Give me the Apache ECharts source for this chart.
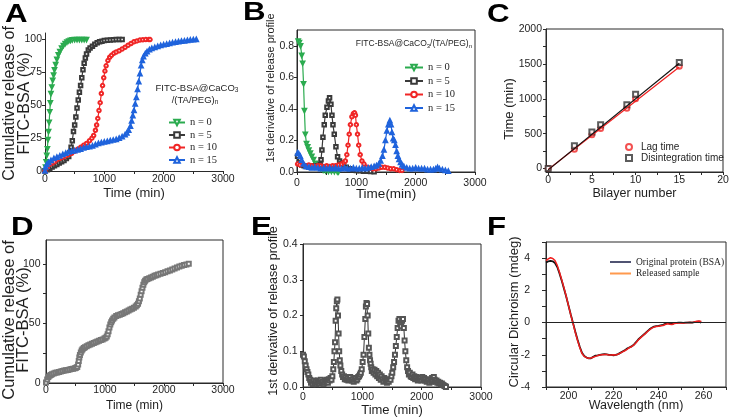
<!DOCTYPE html>
<html><head><meta charset="utf-8">
<script src="https://cdn.jsdelivr.net/npm/echarts@6/dist/echarts.min.js"></script>
<style>html,body{margin:0;padding:0;background:#fff}#c{width:729px;height:418px}</style>
</head><body><div id="c"></div>
<script>
// ---------------- DATA ----------------
// Panel A: cumulative release (%) vs time (min)
const relN0 = [[0,0],[10,3],[20,7],[30,12],[40,17],[50,24],[60,30],[70,37],[80,45],[90,52],[100,59],[115,64],[130,69],[145,73],[160,77],[180,81],[200,85],[225,88.5],[250,91],[280,93.5],[310,95.5],[340,97],[370,98.2],[400,99],[430,99.5],[460,99.8],[500,100],[540,100],[580,100],[620,100],[660,100],[700,100]];
const relN5 = [[0,0],[40,1],[80,2],[120,3],[160,4],[200,5],[240,6],[280,7],[320,8],[360,9.5],[400,11],[420,14],[440,18],[460,23],[480,30],[500,35],[520,41],[540,48],[560,54],[580,60],[600,65],[620,71],[640,77],[660,82],[680,86],[700,89],[730,92],[760,93.5],[800,95],[840,96.5],[880,97.5],[920,98.3],[960,98.8],[1000,99.2],[1050,99.5],[1100,99.7],[1150,99.8],[1200,100],[1250,100],[1300,100]];
const relN10 = [[0,0],[40,3],[80,5],[120,6],[160,7],[200,8.5],[250,9.5],[300,10.5],[350,11.5],[400,12.5],[450,13.5],[500,15],[550,16.5],[600,18],[650,19.5],[700,21],[750,23],[790,25],[820,27],[850,31],[870,35],[890,40],[910,46],[930,52],[950,59],[970,65],[990,71],[1010,76],[1030,80],[1060,84],[1090,86.5],[1120,88],[1160,89.5],[1200,90.5],[1250,91.5],[1300,92.8],[1350,94.2],[1400,95.7],[1450,97],[1500,98.3],[1550,99],[1600,99.6],[1650,99.9],[1700,100],[1750,100],[1770,100]];
const relN15 = [[0,0],[10,3],[30,5],[60,6.5],[100,8],[150,9.5],[200,10.5],[250,11.5],[300,12.5],[350,13.5],[400,14.5],[450,15],[500,15.5],[550,16],[600,16.5],[650,17.5],[700,18],[750,18.5],[800,19],[850,20],[900,21],[950,21.5],[1000,22],[1050,22.5],[1100,23],[1150,23.5],[1200,24],[1250,25],[1300,26],[1350,27.5],[1380,29],[1410,31],[1440,34],[1460,38],[1480,42],[1500,46],[1520,51],[1540,56],[1560,62],[1580,68],[1600,74],[1620,80],[1640,84],[1660,87],[1690,89.3],[1720,90.8],[1760,92.3],[1800,93.3],[1850,94],[1900,94.8],[1950,95.5],[2000,96],[2050,96.5],[2100,97],[2150,97.5],[2200,98],[2250,98.3],[2300,98.7],[2350,99],[2400,99.3],[2450,99.6],[2500,99.9],[2550,100]];

// Panel B: 1st derivative of release profile
const derN0 = [[20,0.83],[40,0.82],[60,0.80],[80,0.74],[95,0.69],[110,0.56],[125,0.39],[140,0.24],[160,0.18],[180,0.16],[200,0.14],[225,0.12],[250,0.10],[280,0.08],[310,0.055],[340,0.04],[370,0.03],[400,0.02],[440,0.012],[480,0.008],[530,0.005],[580,0.004],[630,0.003],[680,0.002],[700,0.002]];
const derN5 = [[10,0.10],[40,0.06],[80,0.045],[120,0.04],[160,0.035],[200,0.035],[250,0.04],[300,0.035],[350,0.04],[390,0.047],[405,0.077],[420,0.14],[437,0.22],[459,0.30],[476,0.36],[505,0.41],[530,0.45],[549,0.47],[572,0.43],[589,0.36],[606,0.30],[628,0.24],[656,0.16],[684,0.096],[718,0.07],[757,0.055],[785,0.044],[830,0.03],[880,0.02],[940,0.015],[1000,0.01],[1060,0.008],[1120,0.005],[1180,0.004],[1240,0.003],[1300,0.002]];
const derN10 = [[10,0.05],[50,0.045],[100,0.05],[150,0.04],[200,0.045],[250,0.04],[300,0.035],[350,0.04],[400,0.04],[450,0.035],[500,0.04],[550,0.035],[600,0.04],[650,0.04],[700,0.045],[750,0.05],[790,0.06],[815,0.07],[840,0.11],[860,0.17],[880,0.24],[900,0.30],[925,0.35],[950,0.37],[970,0.375],[985,0.36],[1000,0.30],[1020,0.24],[1040,0.17],[1065,0.11],[1095,0.07],[1130,0.05],[1180,0.03],[1230,0.025],[1280,0.02],[1330,0.02],[1380,0.025],[1430,0.03],[1480,0.03],[1530,0.025],[1580,0.02],[1630,0.02],[1680,0.015],[1730,0.01],[1770,0.01]];
const derN15 = [[10,0.12],[30,0.115],[55,0.10],[80,0.075],[110,0.05],[150,0.035],[200,0.03],[250,0.025],[300,0.03],[350,0.025],[400,0.02],[450,0.025],[500,0.02],[550,0.025],[600,0.02],[650,0.025],[700,0.02],[750,0.02],[800,0.025],[850,0.02],[900,0.02],[950,0.025],[1000,0.02],[1050,0.02],[1100,0.025],[1150,0.02],[1200,0.025],[1250,0.03],[1300,0.035],[1340,0.04],[1380,0.05],[1410,0.07],[1440,0.1],[1465,0.14],[1490,0.2],[1515,0.26],[1540,0.3],[1565,0.325],[1585,0.3],[1600,0.25],[1620,0.21],[1640,0.2],[1660,0.17],[1680,0.13],[1700,0.1],[1720,0.08],[1745,0.06],[1770,0.045],[1800,0.035],[1850,0.025],[1900,0.02],[1950,0.02],[2000,0.025],[2050,0.02],[2100,0.02],[2150,0.02],[2200,0.015],[2250,0.015],[2300,0.015],[2340,0.02],[2370,0.028],[2400,0.02],[2450,0.015],[2500,0.01],[2550,0.005]];
const seriesNames = ['n = 0', 'n = 5', 'n = 10', 'n = 15'];

// Panel C: lag / disintegration time vs bilayer number
const bilayer = [0, 3, 5, 6, 9, 10, 15];
const lagTime = [0, 275, 485, 575, 865, 1000, 1465];
const disTime = [0, 328, 525, 628, 915, 1065, 1520];
const fitN = [0, 15];
const lagFit = [-15, 1455];
const disFit = [-20, 1510];

// Panel D: cumulative release, multilayer sample
const relMulti = [[0,0.5],[20,3],[40,5],[60,6],[80,6.8],[100,7.4],[130,8],[160,8.5],[190,8.9],[220,9.3],[250,9.7],[280,10],[310,10.4],[340,10.7],[370,11],[400,11.3],[430,11.7],[460,12],[490,12.4],[510,12.8],[530,13.5],[545,15.5],[555,18.5],[565,21.5],[575,23.5],[590,25.5],[605,27.2],[620,28.3],[640,29.3],[660,30],[690,30.8],[720,31.6],[750,32.3],[780,33],[810,33.6],[840,34.2],[870,34.8],[900,35.4],[930,36],[960,36.6],[990,37.3],[1010,38],[1030,39],[1045,41],[1060,43.5],[1075,46.5],[1090,49],[1105,51],[1120,52.5],[1140,54],[1160,55],[1190,56.2],[1220,56.8],[1250,57.2],[1280,57.9],[1310,58.6],[1340,59.3],[1370,60],[1400,60.8],[1430,61.6],[1460,62.4],[1490,63.2],[1520,64.2],[1540,65.2],[1560,66.5],[1575,68.5],[1590,71],[1605,74],[1620,77],[1635,80],[1650,82.5],[1665,84.5],[1680,85.8],[1700,86.8],[1720,87.3],[1750,88],[1780,88.6],[1810,89.2],[1840,89.9],[1870,90.5],[1900,91],[1940,91.7],[1980,92.3],[2020,93],[2060,93.7],[2100,94.5],[2140,95.3],[2180,96.1],[2220,96.9],[2260,97.7],[2300,98.4],[2340,99],[2380,99.5],[2420,100]];

// Panel E: 1st derivative, multilayer sample
const derMulti = [[0,0.09],[15,0.085],[30,0.072],[45,0.06],[60,0.05],[75,0.042],[90,0.035],[105,0.025],[120,0.02],[135,0.012],[150,0.015],[165,0.008],[180,0.018],[195,0.01],[210,0.015],[225,0.008],[240,0.012],[255,0.018],[270,0.01],[285,0.015],[300,0.02],[315,0.012],[330,0.015],[345,0.008],[360,0.012],[375,0.018],[390,0.015],[405,0.02],[420,0.012],[435,0.022],[450,0.018],[465,0.025],[480,0.02],[495,0.03],[510,0.05],[520,0.07],[530,0.1],[540,0.125],[550,0.185],[560,0.22],[570,0.24],[580,0.245],[590,0.2],[600,0.15],[610,0.1],[620,0.075],[630,0.06],[645,0.045],[660,0.035],[675,0.028],[690,0.03],[705,0.022],[720,0.028],[735,0.02],[750,0.025],[765,0.018],[780,0.022],[795,0.028],[810,0.02],[825,0.018],[840,0.022],[855,0.015],[870,0.02],[885,0.025],[900,0.018],[915,0.022],[930,0.028],[945,0.03],[960,0.035],[975,0.04],[990,0.05],[1005,0.07],[1020,0.09],[1035,0.14],[1050,0.19],[1060,0.225],[1070,0.235],[1080,0.232],[1090,0.2],[1100,0.15],[1110,0.11],[1120,0.09],[1130,0.075],[1140,0.065],[1150,0.055],[1160,0.045],[1175,0.05],[1190,0.04],[1205,0.048],[1220,0.035],[1235,0.045],[1250,0.03],[1265,0.04],[1280,0.025],[1295,0.035],[1310,0.02],[1325,0.03],[1340,0.022],[1355,0.015],[1370,0.025],[1385,0.018],[1400,0.02],[1415,0.012],[1430,0.018],[1445,0.015],[1460,0.022],[1475,0.02],[1490,0.03],[1505,0.04],[1520,0.055],[1535,0.07],[1550,0.09],[1565,0.115],[1580,0.14],[1595,0.165],[1610,0.185],[1625,0.19],[1640,0.175],[1655,0.17],[1670,0.185],[1685,0.19],[1700,0.165],[1712,0.13],[1725,0.1],[1740,0.075],[1755,0.055],[1770,0.045],[1785,0.035],[1800,0.04],[1815,0.03],[1830,0.028],[1845,0.035],[1860,0.025],[1875,0.03],[1890,0.022],[1905,0.028],[1920,0.025],[1935,0.018],[1950,0.022],[1965,0.02],[1980,0.025],[1995,0.018],[2010,0.028],[2025,0.02],[2040,0.025],[2055,0.018],[2070,0.022],[2085,0.015],[2100,0.02],[2115,0.018],[2130,0.012],[2145,0.02],[2160,0.015],[2175,0.025],[2190,0.018],[2205,0.028],[2220,0.02],[2235,0.015],[2250,0.018],[2265,0.012],[2280,0.015],[2295,0.01],[2310,0.012],[2325,0.008],[2340,0.01],[2355,0.006],[2370,0.005],[2385,0.003],[2400,0.002],[2410,0.0]];

// Panel F: circular dichroism spectra
const wavelength = [190,191,192,193,194,195,196,197,198,199,200,201,202,203,204,205,206,207,208,209,210,211,212,213,214,215,216,217,218,219,220,221,222,223,224,225,226,227,228,229,230,231,232,233,234,235,236,237,238,239,240,241,242,243,244,245,246,247,248,249,250,251,252,253,254,255,256,257,258,259];
const cdOriginal = [3.72,3.80,3.83,3.80,3.70,3.45,3.05,2.6,2.1,1.6,1.05,0.5,-0.02,-0.55,-1.05,-1.5,-1.88,-2.08,-2.17,-2.22,-2.22,-2.12,-2.05,-2.04,-2.0,-1.98,-1.96,-1.98,-2.0,-2.0,-2.03,-2.0,-1.96,-1.88,-1.8,-1.72,-1.62,-1.55,-1.48,-1.38,-1.22,-1.05,-0.92,-0.8,-0.68,-0.55,-0.42,-0.32,-0.25,-0.22,-0.2,-0.17,-0.14,-0.08,-0.02,-0.05,-0.1,-0.04,-0.02,0.0,-0.01,-0.02,0.0,-0.01,0.01,0.0,0.02,0.04,0.06,0.0];
const cdReleased = [3.85,3.95,4.02,3.98,3.85,3.55,3.12,2.65,2.15,1.62,1.05,0.48,-0.05,-0.6,-1.1,-1.55,-1.92,-2.1,-2.18,-2.22,-2.2,-2.15,-2.1,-2.05,-2.02,-2.0,-1.98,-1.98,-2.02,-2.02,-2.0,-2.02,-1.97,-1.9,-1.82,-1.75,-1.66,-1.56,-1.5,-1.4,-1.25,-1.08,-0.95,-0.82,-0.7,-0.57,-0.45,-0.35,-0.28,-0.25,-0.23,-0.2,-0.18,-0.12,-0.08,-0.1,-0.12,-0.06,-0.04,-0.02,-0.02,-0.03,-0.01,0.0,0.0,0.01,0.03,0.08,0.1,0.06];

// Tick values
const timeTicks = [0, 500, 1000, 1500, 2000, 2500, 3000];
const timeLabels = [0, 1000, 2000, 3000];
const relTicksA = [0, 25, 50, 75, 100];
const derTicksB = [0, 0.2, 0.4, 0.6, 0.8];
const bilayerTicks = [0, 2.5, 5, 7.5, 10, 12.5, 15, 17.5, 20];
const bilayerLabels = [0, 5, 10, 15, 20];
const timeCTicks = [0, 250, 500, 750, 1000, 1250, 1500, 1750, 2000];
const timeCLabels = [0, 500, 1000, 1500, 2000];
const relTicksD = [0, 25, 50, 75, 100];
const relLabelsD = [0, 50, 100];
const derTicksE = [0, 0.1, 0.2, 0.3, 0.4];
const wlTicks = [190, 200, 210, 220, 230, 240, 250, 260, 270];
const wlLabels = [200, 220, 240, 260];
const cdTicks = [-4, -3, -2, -1, 0, 1, 2, 3, 4, 5];
const cdLabels = [-4, -2, 0, 2, 4];

// ---------------- STYLE ----------------
const SANS = '"Liberation Sans", Arial, sans-serif';
const SERIF = '"Liberation Serif", "Times New Roman", serif';
const AX = '#2a2a2a';
const TXT = '#1e1e1e';
const colors = ['#2bab4f', '#3a3a3a', '#f02626', '#1f63dc'];
const symbols = ['emptyTriangle', 'emptyRect', 'emptyCircle', 'emptyTriangle'];
const rotates = [180, 0, 0, 0];

function axis(grid, o) {
  const base = {
    type: 'value', gridIndex: grid,
    axisLine: {show: true, onZero: false, lineStyle: {color: AX, width: 1}},
    axisTick: {show: true, inside: false, length: 3, lineStyle: {color: AX, width: 1}},
    axisLabel: {fontSize: 10.5, color: TXT, fontFamily: SANS, margin: 3, formatter: v => String(v)},
    splitLine: {show: false},
    nameLocation: 'middle',
    nameMoveOverlap: false,
    nameTextStyle: {fontSize: 13, color: TXT, fontFamily: SANS}
  };
  for (const k in o) {
    if (o[k] && typeof o[k] === 'object' && !Array.isArray(o[k]) && base[k] && typeof base[k] === 'object') {
      base[k] = Object.assign({}, base[k], o[k]);
    } else base[k] = o[k];
  }
  return base;
}

const frame = {show: true, borderColor: AX, borderWidth: 1, backgroundColor: 'transparent'};
const gb = {outerBoundsMode: 'none', containLabel: false};
const grids = [
  Object.assign({left: 45, top: 33, width: 178, height: 138}, gb),
  Object.assign({left: 297, top: 30, width: 178, height: 142}, frame, gb),
  Object.assign({left: 546, top: 29, width: 177, height: 143}, frame, gb),
  Object.assign({left: 46, top: 240, width: 177, height: 143}, frame, gb),
  Object.assign({left: 303, top: 244, width: 178, height: 143}, frame, gb),
  Object.assign({left: 546, top: 242, width: 180, height: 145}, frame, gb)
];

const xAxes = [
  axis(0, {min: 0, max: 3000, name: 'Time (min)', nameGap: 16, axisTick: {customValues: timeTicks}, axisLabel: {customValues: timeLabels, margin: 3}}),
  axis(1, {min: 0, max: 3000, name: 'Time(min)', nameGap: 15, nameTextStyle: {fontSize: 13.5}, axisTick: {customValues: timeTicks}, axisLabel: {customValues: timeLabels, margin: 5.5}}),
  axis(2, {min: -0.25, max: 20, name: 'Bilayer number', nameGap: 15, nameTextStyle: {fontSize: 12.5}, axisTick: {customValues: bilayerTicks}, axisLabel: {customValues: bilayerLabels, margin: 3}}),
  axis(3, {min: 0, max: 3000, name: 'Time (min)', nameGap: 17, nameTextStyle: {fontSize: 12}, axisTick: {customValues: timeTicks}, axisLabel: {customValues: timeLabels, margin: 2}}),
  axis(4, {min: 0, max: 3000, name: 'Time (min)', nameGap: 17, axisTick: {customValues: timeTicks}, axisLabel: {customValues: timeLabels, margin: 5}}),
  axis(5, {min: 190, max: 270, name: 'Wavelength (nm)', nameGap: 12, nameTextStyle: {fontSize: 12.5}, axisTick: {customValues: wlTicks}, axisLabel: {customValues: wlLabels, margin: 3.5}})
];
const yAxes = [
  axis(0, {min: 0, max: 105, axisTick: {customValues: relTicksA}, axisLabel: {customValues: relTicksA}}),
  axis(1, {min: 0, max: 0.9, axisTick: {customValues: derTicksB}, axisLabel: {customValues: derTicksB, formatter: v => v.toFixed(1)}}),
  axis(2, {min: -50, max: 2000, axisTick: {customValues: timeCTicks}, axisLabel: {customValues: timeCLabels, margin: 4}}),
  axis(3, {min: 0, max: 120, axisTick: {customValues: relTicksD}, axisLabel: {customValues: relLabelsD, margin: 5.5}}),
  axis(4, {min: 0, max: 0.4, axisTick: {customValues: derTicksE}, axisLabel: {customValues: derTicksE, margin: 5.5, formatter: v => v.toFixed(1)}}),
  axis(5, {min: -4, max: 5, axisTick: {customValues: cdTicks, length: 4}, axisLabel: {customValues: cdLabels, margin: 16}})
];

const series = [];
[relN0, relN5, relN10, relN15].forEach((d, i) => series.push({
  type: 'line', name: seriesNames[i], xAxisIndex: 0, yAxisIndex: 0, data: d,
  symbol: symbols[i], symbolRotate: rotates[i], symbolSize: 3.5,
  lineStyle: {color: colors[i], width: 1.2}, itemStyle: {color: colors[i], borderWidth: 1}, z: 3
}));
[derN0, derN5, derN10, derN15].forEach((d, i) => series.push({
  type: 'line', name: seriesNames[i], xAxisIndex: 1, yAxisIndex: 1, data: d,
  symbol: symbols[i], symbolRotate: rotates[i], symbolSize: 3.5,
  lineStyle: {color: colors[i], width: 1.2}, itemStyle: {color: colors[i], borderWidth: 1}, z: 3
}));
series.push({type: 'line', name: 'lagFit', xAxisIndex: 2, yAxisIndex: 2, data: fitN.map((n, i) => [n, lagFit[i]]), symbol: 'none', lineStyle: {color: '#f01e1e', width: 1.2}});
series.push({type: 'line', name: 'disFit', xAxisIndex: 2, yAxisIndex: 2, data: fitN.map((n, i) => [n, disFit[i]]), symbol: 'none', lineStyle: {color: '#111', width: 1.2}});
series.push({type: 'scatter', name: 'Lag time', xAxisIndex: 2, yAxisIndex: 2, data: bilayer.map((n, i) => [n, lagTime[i]]), symbol: 'emptyCircle', symbolSize: 5, itemStyle: {color: '#f02626', borderWidth: 1}});
series.push({type: 'scatter', name: 'Disintegration time', xAxisIndex: 2, yAxisIndex: 2, data: bilayer.map((n, i) => [n, disTime[i]]), symbol: 'emptyRect', symbolSize: 5, itemStyle: {color: '#333', borderWidth: 1}});
series.push({type: 'line', name: 'multiRel', xAxisIndex: 3, yAxisIndex: 3, data: relMulti, symbol: 'emptyRect', symbolSize: 4, lineStyle: {color: '#666', width: 1}, itemStyle: {color: '#777', borderWidth: 1}});
series.push({type: 'line', name: 'multiDer', xAxisIndex: 4, yAxisIndex: 4, data: derMulti, symbol: 'emptyRect', symbolSize: 4, lineStyle: {color: '#1a1a1a', width: 0.9}, itemStyle: {color: '#555', borderWidth: 1}});
series.push({type: 'line', name: 'Original protein (BSA)', xAxisIndex: 5, yAxisIndex: 5, data: wavelength.map((w, i) => [w, cdOriginal[i]]), symbol: 'none', lineStyle: {color: '#111', width: 1.8},
  markLine: {silent: true, symbol: ['none', 'none'], label: {show: false}, lineStyle: {color: '#222', width: 1, type: 'solid'}, data: [{yAxis: 0}]}});
series.push({type: 'line', name: 'Released sample', xAxisIndex: 5, yAxisIndex: 5, data: wavelength.map((w, i) => [w, cdReleased[i]]), symbol: 'none', lineStyle: {color: '#f01e1e', width: 1.5}});

const legends = [
  {data: seriesNames, left: 163, top: 112, orient: 'vertical', itemWidth: 16, itemHeight: 7, itemGap: 1.5, selectedMode: false, textStyle: {fontFamily: SERIF, fontSize: 10.5, color: TXT}},
  {data: seriesNames, left: 399, top: 57, orient: 'vertical', itemWidth: 18, itemHeight: 7, itemGap: 2.5, selectedMode: false, textStyle: {fontFamily: SERIF, fontSize: 10.5, color: TXT}},
  {data: [
      {name: 'Lag time', icon: 'emptyCircle', itemStyle: {color: '#f02626', borderWidth: 1}},
      {name: 'Disintegration time', icon: 'emptyRect', itemStyle: {color: '#333', borderWidth: 1}}],
    left: 620, top: 137, orient: 'vertical', itemWidth: 6, itemHeight: 6, itemGap: 1, selectedMode: false, textStyle: {fontFamily: SANS, fontSize: 10, color: TXT, padding: [0, 0, 0, 4]}},
  {data: ['Original protein (BSA)', 'Released sample'], left: 605, top: 252, orient: 'vertical', icon: 'rect', itemWidth: 21, itemHeight: 2, itemGap: 1.5, selectedMode: false, textStyle: {fontFamily: SERIF, fontSize: 9.5, color: TXT}}
];

function letter(t, x, y) {
  return {type: 'text', x: x, y: y, scaleX: 1.25, style: {text: t, fontSize: 25, fontWeight: 'bold', fontFamily: SANS, fill: '#000', align: 'left', verticalAlign: 'top'}};
}
// rotated y-axis titles
function yTitle(t, x, y, size, lh) {
  return {type: 'text', x: x, y: y, rotation: Math.PI / 2,
    style: {text: t, fontSize: size, fontFamily: SANS, fill: TXT, align: 'center', verticalAlign: 'middle', lineHeight: lh || size}};
}
const subRich = {
  a: {fontSize: 9.5, fontFamily: SANS, fill: TXT, color: TXT},
  s: {fontSize: 6.5, fontFamily: SANS, fill: TXT, color: TXT, verticalAlign: 'bottom', padding: [4, 0, 0, 0]}
};
const subRichB = {
  a: {fontSize: 8.5, fontFamily: SANS, fill: TXT, color: TXT},
  s: {fontSize: 6, fontFamily: SANS, fill: TXT, color: TXT, verticalAlign: 'bottom', padding: [4, 0, 0, 0]}
};
const graphic = [
  letter('A', 5, 3), letter('B', 243, 1), letter('C', 487, 3),
  letter('D', 11, 216), letter('E', 251, 216), letter('F', 487, 216),
  yTitle('Cumulative release of\nFITC-BSA (%)', 17.5, 103.5, 16, 15),
  yTitle('1st derivative of release profile', 271, 88, 11),
  yTitle('Time (min)', 509, 109, 13),
  yTitle('Cumulative release of\nFITC-BSA (%)', 16.5, 320, 16.5, 14),
  yTitle('1st derivative of release profile', 274, 311, 12.5),
  yTitle('Circular Dichroism (mdeg)', 514, 312, 13),
  {type: 'text', x: 197, y: 88, style: {text: '{a|FITC-BSA@CaCO}{s|3}', rich: subRich, align: 'center', verticalAlign: 'middle'}},
  {type: 'text', x: 195, y: 100, style: {text: '{a|/(TA/PEG)}{s|n}', rich: subRich, align: 'center', verticalAlign: 'middle'}},
  {type: 'text', x: 472, y: 44, style: {text: '{a|FITC-BSA@CaCO}{s|3}{a|/(TA/PEG)}{s|n}', rich: subRichB, align: 'right', verticalAlign: 'middle'}}
];

const chart = echarts.init(document.getElementById('c'), null, {renderer: 'canvas'});
chart.setOption({
  animation: false,
  backgroundColor: '#fff',
  grid: grids, xAxis: xAxes, yAxis: yAxes, series: series, legend: legends, graphic: graphic
});
</script></body></html>
